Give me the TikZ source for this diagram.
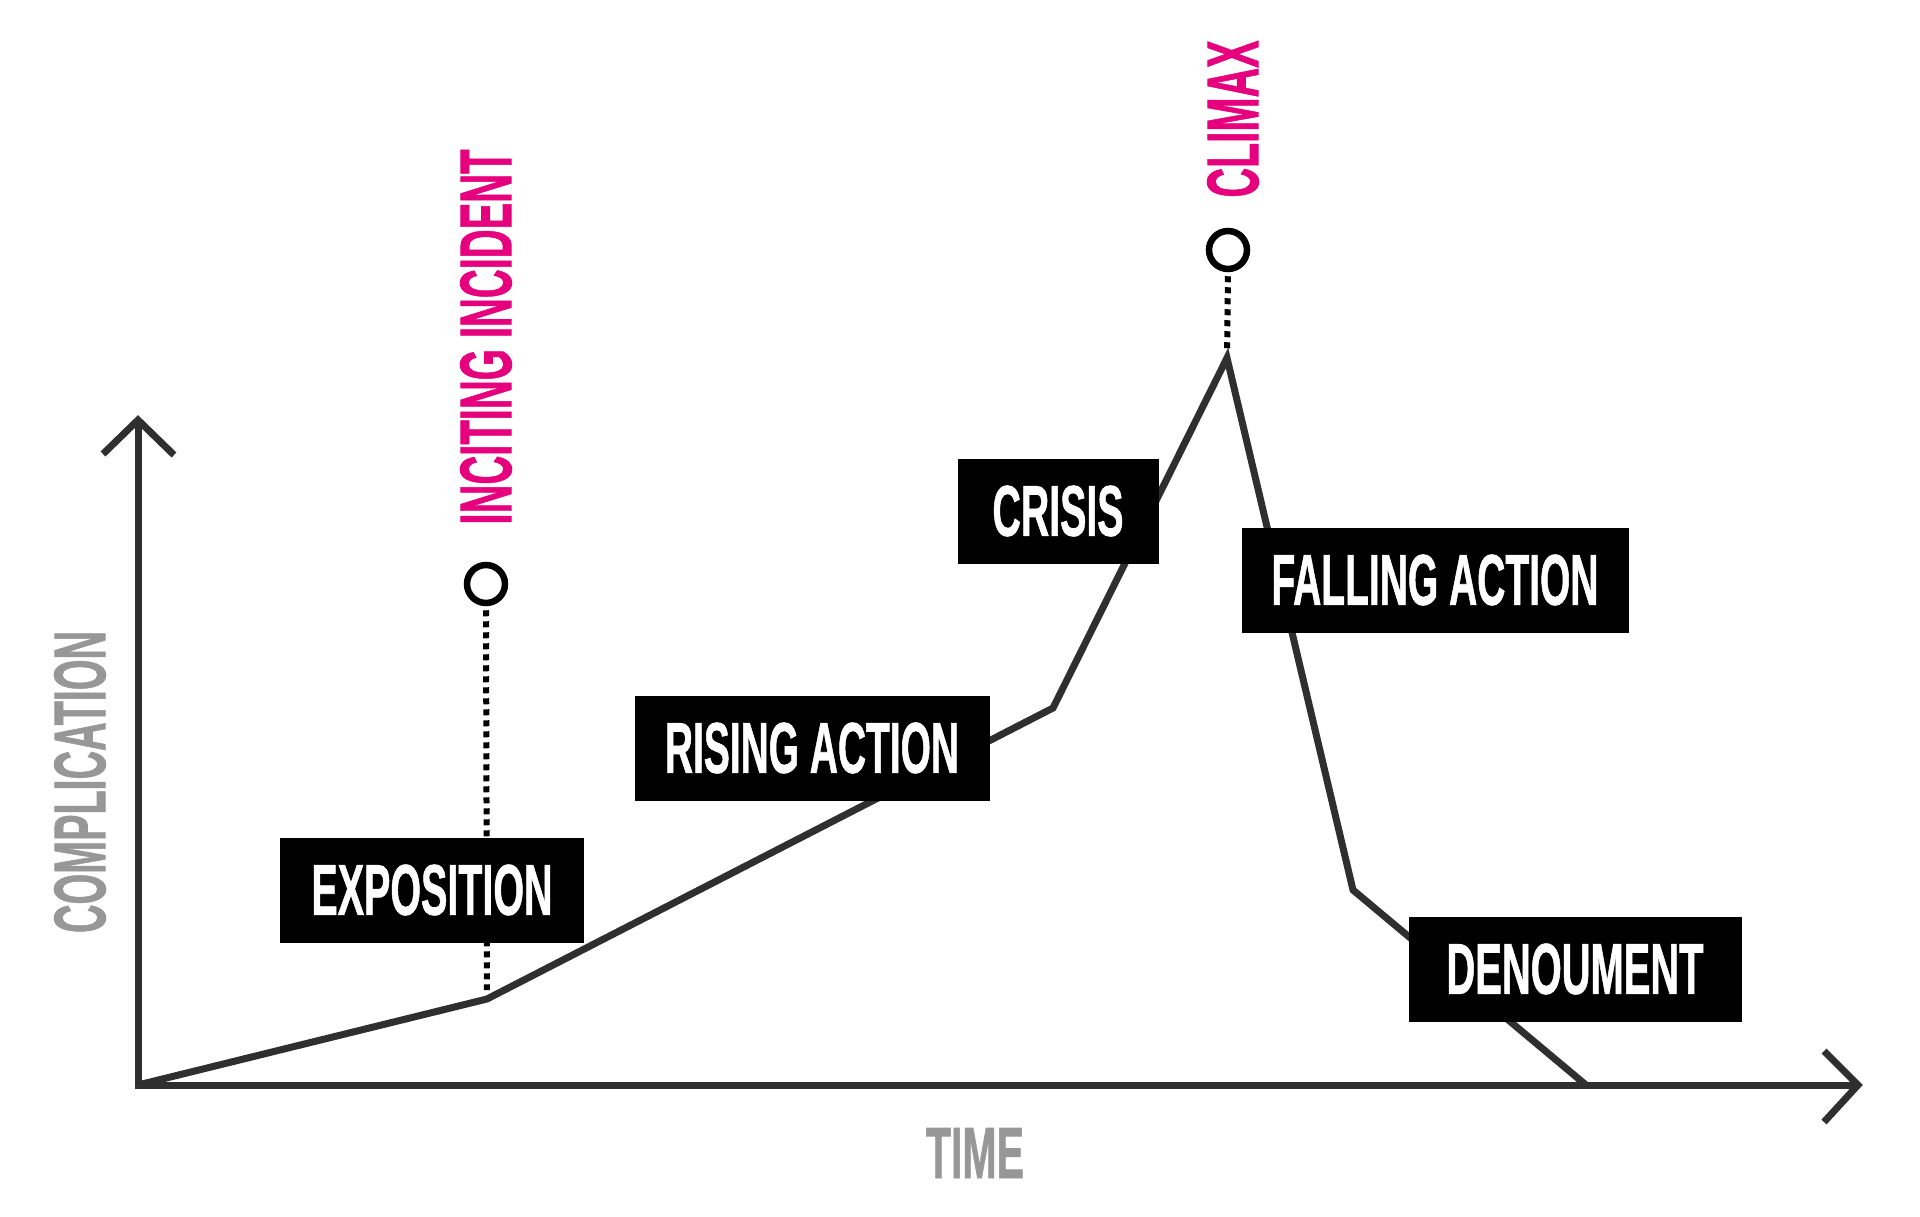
\documentclass[tikz,border=0pt]{standalone}
\usepackage{fontspec}
\setmainfont{Liberation Sans}
\newfontfamily\labfont{Liberation Sans}[FakeBold=1.2]
\usepackage{graphicx}
\definecolor{linegray}{HTML}{2F2F2F}
\definecolor{hotpink}{HTML}{E6007E}
\definecolor{labgray}{HTML}{979797}
\newcommand{\fitlbl}[3]{\resizebox{#1}{#2}{\labfont\bfseries #3}}
\tikzset{
  curveline/.style={draw=linegray, line width=7pt, line join=miter},
  axisline/.style={draw=linegray, line width=7pt, line join=miter},
  dotline/.style={draw=black, line width=6pt, dash pattern=on 6pt off 5pt},
  ring/.style={circle, draw=black, line width=6.5pt, minimum size=38pt, inner sep=0pt, fill=white},
  labbox/.style={fill=black, text=white, inner sep=0pt, minimum height=105pt},
  pinklbl/.style={rotate=90, text=hotpink, inner sep=0pt},
  graylbl/.style={text=labgray, inner sep=0pt}
}
\begin{document}
\begin{tikzpicture}[x=1pt, y=-1pt]
  \fill[white] (0,0) rectangle (1920,1217);
  \useasboundingbox (0,0) rectangle (1920,1217);
  % coordinates
  \coordinate (O) at (138,1085);
  \coordinate (ytip) at (138,420);
  \coordinate (ya1) at (103,454);
  \coordinate (ya2) at (174,455);
  \coordinate (xtip) at (1858,1085);
  \coordinate (xa1) at (1824,1051);
  \coordinate (xa2) at (1824,1122);
  \coordinate (p1) at (487,999);
  \coordinate (p2) at (1053,708);
  \coordinate (p3) at (1227,358);
  \coordinate (p4) at (1353,890);
  \coordinate (p5) at (1586,1085);
  % axes
  \draw[axisline] (ytip) -- (O) -- (xtip);
  \draw[axisline] (ya1) -- (ytip) -- (ya2);
  \draw[axisline] (xa1) -- (xtip) -- (xa2);
  % story curve
  \draw[curveline] (O) -- (p1) -- (p2) -- (p3) -- (p4) -- (p5);
  % markers
  \node[ring] (icc) at (486,584) {};
  \node[ring] (clc) at (1228,250) {};
  \draw[dotline, shorten <=4pt, shorten >=9pt] (icc.south) -- (p1);
  \draw[dotline, shorten <=4pt, shorten >=8pt] (clc.south) -- (p3);
  % pink labels
  \node[pinklbl] (inc) at (486,337) {\fitlbl{375pt}{51pt}{INCITING INCIDENT}};
  \node[pinklbl] (clim) at (1233,119) {\fitlbl{157pt}{51pt}{CLIMAX}};
  % axis labels
  \node[graylbl, rotate=90] (comp) at (80,782) {\fitlbl{302pt}{51pt}{COMPLICATION}};
  \node[graylbl] (time) at (975,1153) {\fitlbl{98pt}{50pt}{TIME}};
  % boxes
  \node[labbox, minimum width=304pt] (expo) at (432,890) {\fitlbl{241pt}{50pt}{EXPOSITION}};
  \node[labbox, minimum width=355pt] (rise) at (812,748) {\fitlbl{294pt}{50pt}{RISING ACTION}};
  \node[labbox, minimum width=201pt] (crisis) at (1058,511) {\fitlbl{131pt}{50pt}{CRISIS}};
  \node[labbox, minimum width=387pt] (fall) at (1435,580) {\fitlbl{327pt}{50pt}{FALLING ACTION}};
  \node[labbox, minimum width=333pt] (denou) at (1575,969) {\fitlbl{257pt}{50pt}{DENOUMENT}};
\end{tikzpicture}
\end{document}
